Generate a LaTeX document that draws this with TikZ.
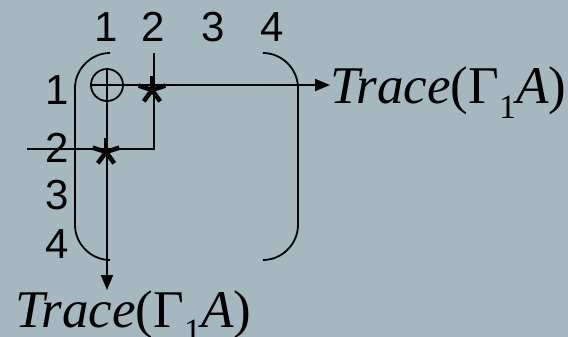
\documentclass[tikz,border=0pt]{standalone}
\usepackage{fontspec}
\setmainfont{Liberation Serif}
\newfontfamily\arialf{Liberation Sans}
\usetikzlibrary{arrows.meta}
\definecolor{bg}{RGB}{166,184,191}
\newcommand{\tracetext}{\textit{Trace}(Γ\raisebox{-15pt}{\fontsize{34}{34}\selectfont 1}\textit{A})}
\begin{document}
\begin{tikzpicture}[x=1pt,y=-1pt,
  ln/.style={line width=1.8pt},
  lbl/.style={font=\arialf\fontsize{42}{42}\selectfont, inner sep=0pt},
  tr/.style={font=\fontsize{53}{53}\selectfont, inner sep=0pt, anchor=base west},
  arr/.style={ln,-{Triangle[length=15pt,width=12pt]}},
  starline/.style={line width=4.5pt}]
\fill[bg] (0,0) rectangle (568,337);
\useasboundingbox (0,0) rectangle (568,337);
% column labels
\node[lbl] (c1) at (106,27) {1};
\node[lbl] (c2) at (153,27) {2};
\node[lbl] (c3) at (213,27) {3};
\node[lbl] (c4) at (272,27) {4};
% row labels
\node[lbl] (r1) at (57,90) {1};
\node[lbl] (r2) at (57,148) {2};
\node[lbl] (r3) at (57,195) {3};
\node[lbl] (r4) at (57,244) {4};
% brackets
\draw[ln] (110,53) .. controls (91,53) and (75,69) .. (75,88) -- (75,225)
          .. controls (75,244) and (91,260) .. (110,260);
\draw[ln] (263,53) .. controls (282,53) and (298,69) .. (298,88) -- (298,225)
          .. controls (298,244) and (282,260) .. (263,260);
% circle plus
\node[circle, draw, ln, minimum size=32pt, inner sep=0pt] (o) at (107,85) {};
% trace texts
\node[tr] (tr1) at (330,103) {\tracetext};
\node[tr] (tr2) at (15,327) {\tracetext};
% arrows
\draw[arr] (o.west) -- (o.west -| tr1.west);
\draw[arr] (o.north) -- (o.north |- tr2.north);
% line 2
\coordinate (s2) at (27,149);
\coordinate (k2) at (154,149);
\coordinate (t2) at (154,53);
\draw[ln] (s2) -- (k2) -- (t2);
% stars
\coordinate (x1) at (152,90);
\coordinate (x2) at (106,152);
\foreach \p in {x1,x2}{
  \foreach \a in {270,342,198,126,54}{
    \draw[starline] (\p) -- ++(\a:14);
  }
}
\end{tikzpicture}
\end{document}
